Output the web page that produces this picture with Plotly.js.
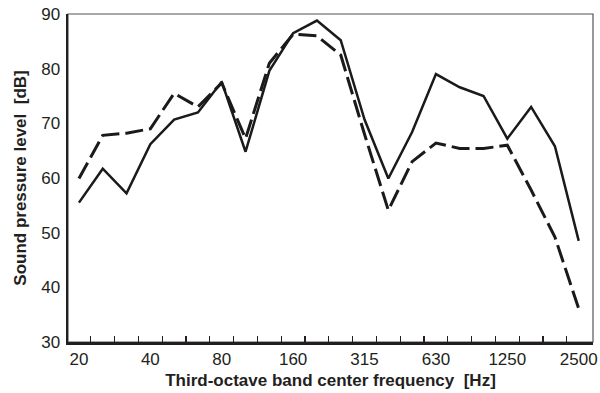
<!DOCTYPE html>
<html>
<head>
<meta charset="utf-8">
<script src="https://cdn.plot.ly/plotly-3.0.1.min.js"></script>
<style>html,body{margin:0;padding:0;background:#fff}#chart{width:600px;height:393px}</style>
</head>
<body>
<div id="chart"></div>
<script>
const bands = ['20','25','31.5','40','50','63','80','100','125','160','200','250','315','400','500','630','800','1000','1250','1600','2000','2500'];
const tickLabels = ['20','40','80','160','315','630','1250','2500'];
const solidSeries = [55.5, 61.7, 57.2, 66.2, 70.7, 72.0, 77.6, 64.8, 79.6, 86.5, 88.8, 85.2, 70.7, 59.9, 68.4, 79.0, 76.6, 75.0, 67.2, 73.0, 65.8, 48.5];
const dashedSeries = [59.9, 67.8, 68.2, 69.0, 75.5, 73.0, 77.4, 67.2, 81.0, 86.3, 86.0, 82.5, 68.0, 54.1, 63.0, 66.4, 65.4, 65.4, 66.0, 57.8, 49.2, 36.1];

const idx = bands.map((b, i) => i);
const tickIdx = tickLabels.map(t => bands.indexOf(t));
// band boundaries (between consecutive bands)
const boundaries = idx.slice(0, -1).map(i => i + 0.5);
const xRange = [-0.46, 21.6];

const traces = [
  {x: idx, y: dashedSeries, type: 'scatter', mode: 'lines', name: 'dashed', xaxis: 'x', yaxis: 'y',
   line: {color: '#1a1a1a', width: 3, dash: '18px,6px'}, hoverinfo: 'skip'},
  {x: idx, y: solidSeries, type: 'scatter', mode: 'lines', name: 'solid', xaxis: 'x2', yaxis: 'y',
   line: {color: '#1a1a1a', width: 2.5}, hoverinfo: 'skip'}
];

const font = {family: '"Liberation Sans", Arial, sans-serif', color: '#231f20'};

const layout = {
  width: 600, height: 393,
  margin: {l: 68, r: 7, t: 14, b: 51},
  paper_bgcolor: '#fff', plot_bgcolor: '#fff',
  showlegend: false,
  font: Object.assign({size: 17}, font),
  xaxis: {
    range: xRange,
    tickmode: 'array', tickvals: boundaries,
    ticks: 'inside', ticklen: 6, tickwidth: 1.2, tickcolor: '#231f20',
    showticklabels: false, showgrid: false, zeroline: false,
    showline: true, linecolor: '#231f20', linewidth: 2.5
  },
  xaxis2: {
    range: xRange, overlaying: 'x', side: 'bottom', anchor: 'y',
    tickmode: 'array', tickvals: tickIdx, ticktext: tickLabels,
    ticks: '', showgrid: false, zeroline: false, showline: false,
    ticklabelstandoff: 5,
    tickfont: Object.assign({size: 17}, font),
    title: {text: 'Third-octave band center frequency\u00a0\u00a0[Hz]', standoff: 6,
            font: Object.assign({size: 17, weight: 'bold'}, font)}
  },
  yaxis: {
    range: [30, 90],
    tickvals: [30, 40, 50, 60, 70, 80, 90],
    ticks: '', showgrid: false, zeroline: false,
    showline: true, linecolor: '#231f20', linewidth: 2.5,
    ticklabelstandoff: 2,
    tickfont: Object.assign({size: 17}, font),
    title: {text: 'Sound pressure level\u00a0\u00a0[dB]', standoff: 10,
            font: Object.assign({size: 17, weight: 'bold'}, font)}
  },
  shapes: [
    {type: 'rect', xref: 'paper', yref: 'paper', x0: 0, x1: 1, y0: 0, y1: 1,
     line: {color: '#555', width: 1.2}, layer: 'below'}
  ]
};

Plotly.newPlot('chart', traces, layout, {staticPlot: true, displayModeBar: false});
</script>
</body>
</html>
